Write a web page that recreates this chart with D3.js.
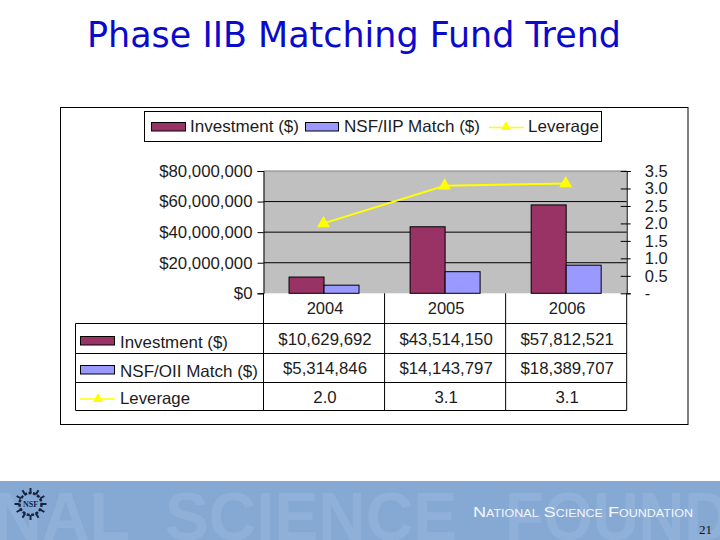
<!DOCTYPE html>
<html>
<head>
<meta charset="utf-8">
<script src="https://cdn.jsdelivr.net/npm/d3@7/dist/d3.min.js"></script>
<style>
html,body{margin:0;padding:0;background:#fff}
svg{display:block}
text{font-family:"Liberation Sans",Arial,sans-serif;fill:#1c1c1c}
</style>
</head>
<body>
<script>
const categories = ["2004", "2005", "2006"];
const investment = [10629692, 43514150, 57812521];
const nsfMatch = [5314846, 14143797, 18389707];
const leverage = [2.0, 3.08, 3.14];
const investmentLabels = ["$10,629,692", "$43,514,150", "$57,812,521"];
const matchLabels = ["$5,314,846", "$14,143,797", "$18,389,707"];
const leverageLabels = ["2.0", "3.1", "3.1"];
const moneyTicks = [0, 20000000, 40000000, 60000000, 80000000];
const ratioTicks = [0, 0.5, 1, 1.5, 2, 2.5, 3, 3.5];
const legendNames = ["Investment ($)", "NSF/IIP Match ($)", "Leverage"];
const tableNames = ["Investment ($)", "NSF/OII Match ($)", "Leverage"];
const titleText = "Phase IIB Matching Fund Trend";

const svg = d3.select("body").append("svg").attr("width", 720).attr("height", 540);
const maroon = "#993366", periwinkle = "#9999ff", yellow = "#ffff00";

function label(sel, x, y, str, size, anchor, len) {
  const t = sel.append("text").attr("x", x).attr("y", y).attr("font-size", size)
    .attr("text-anchor", anchor || "start").text(str);
  if (len) t.attr("textLength", len).attr("lengthAdjust", "spacingAndGlyphs");
  return t;
}
function triangle(sel, cx, cy, r) {
  sel.append("path").attr("transform", `translate(${cx},${cy})`)
    .attr("d", d3.symbol(d3.symbolTriangle, r * r * 1.3)()).attr("fill", yellow);
}

// title
label(svg, 87, 47, titleText, 35, "start", 534)
  .style("font-family", "'DejaVu Sans'").style("fill", "#0a0acc");

// frame
svg.append("rect").attr("x", 60.5).attr("y", 107.5).attr("width", 627.5).attr("height", 317)
  .attr("fill", "#fff").attr("stroke", "#000");

// legend
const lg = svg.append("g");
lg.append("rect").attr("x", 144.5).attr("y", 111.5).attr("width", 457).attr("height", 30)
  .attr("fill", "#fff").attr("stroke", "#000");
lg.append("rect").attr("x", 151.5).attr("y", 122.5).attr("width", 34).attr("height", 8.5)
  .attr("fill", maroon).attr("stroke", "#000");
label(lg, 190, 131.5, legendNames[0], 16.5, "start", 109);
lg.append("rect").attr("x", 305.5).attr("y", 122.5).attr("width", 33).attr("height", 8.5)
  .attr("fill", periwinkle).attr("stroke", "#000");
label(lg, 344, 131.5, legendNames[1], 16.5, "start", 136);
lg.append("line").attr("x1", 489).attr("x2", 524).attr("y1", 127.5).attr("y2", 127.5)
  .attr("stroke", yellow).attr("stroke-width", 1.5);
triangle(lg, 506, 127, 6);
label(lg, 528, 131.5, legendNames[2], 16.5, "start", 71);

// scales
const x = d3.scaleBand().domain(categories).range([263.5, 626.7]);
const y = d3.scaleLinear().domain([0, 80000000]).range([293.3, 171]);
const yR = d3.scaleLinear().domain([0, 3.5]).range([293.3, 171]);
const inner = d3.scaleBand().domain(["investment", "match"]).range([0, x.bandwidth()]).paddingOuter(0.73).paddingInner(0);

// plot area
svg.append("rect").attr("x", 263.5).attr("y", 171).attr("width", 363.2).attr("height", 122.3)
  .attr("fill", "#c0c0c0");
svg.append("line").attr("x1", 263.5).attr("x2", 626.7).attr("y1", 171).attr("y2", 171).attr("stroke", "#808080");
svg.append("g").selectAll("line").data(moneyTicks.slice(1, -1)).join("line")
  .attr("x1", 263.5).attr("x2", 626.7).attr("y1", d => y(d)).attr("y2", d => y(d)).attr("stroke", "#000");

// bars
[["investment", investment, maroon], ["match", nsfMatch, periwinkle]].forEach(([key, vals, col]) => {
  svg.append("g").selectAll("rect").data(vals).join("rect")
    .attr("x", (d, i) => x(categories[i]) + inner(key))
    .attr("width", inner.bandwidth())
    .attr("y", d => y(d))
    .attr("height", d => y(0) - y(d))
    .attr("fill", col).attr("stroke", "#000");
});

// leverage line
const lineGen = d3.line().x((d, i) => x(categories[i]) + x.bandwidth() / 2 - 0.5).y(d => yR(d));
svg.append("path").datum(leverage).attr("d", lineGen).attr("fill", "none")
  .attr("stroke", yellow).attr("stroke-width", 2);
leverage.forEach((d, i) => triangle(svg, x(categories[i]) + x.bandwidth() / 2 - 0.5, yR(d), 7.5));

// axes
const axL = svg.append("g").attr("transform", "translate(263.5,0)")
  .call(d3.axisLeft(y).tickValues(moneyTicks).tickSize(6).tickPadding(5)
    .tickFormat(d => "$" + d3.format(",")(d)));
axL.select(".domain").attr("stroke", "#000");
axL.selectAll("text").attr("font-size", 16.8).attr("font-family", "Liberation Sans").style("fill", "#1c1c1c");
const axR = svg.append("g").attr("transform", "translate(626.7,0)")
  .call(d3.axisRight(yR).tickValues(ratioTicks).tickSize(4).tickPadding(14)
    .tickFormat(d => d === 0 ? "-" : d3.format(".1f")(d)));
axR.select(".domain").attr("stroke", "#000");
axR.selectAll("line").attr("x1", -6);
axR.selectAll("text").attr("font-size", 16.5).attr("font-family", "Liberation Sans").style("fill", "#1c1c1c");

// data table
const tbl = svg.append("g");
const rowY = [293.3, 323.5, 353.5, 382.5, 410.5];
const tableLeft = 75.5;
[1, 2, 3, 4].forEach(i => tbl.append("line").attr("x1", tableLeft).attr("x2", 626.7)
  .attr("y1", rowY[i]).attr("y2", rowY[i]).attr("stroke", "#000"));
tbl.append("line").attr("x1", tableLeft).attr("x2", tableLeft).attr("y1", rowY[1]).attr("y2", rowY[4]).attr("stroke", "#000");
[...x.domain().map(c => x(c)), 626.7].forEach(v => tbl.append("line").attr("x1", v).attr("x2", v)
  .attr("y1", rowY[0]).attr("y2", rowY[4]).attr("stroke", "#000"));

categories.forEach((c, i) => {
  const cx = x(c) + x.bandwidth() / 2 + 1;
  label(tbl, cx, 314, c, 16.5, "middle");
  label(tbl, cx, 345, investmentLabels[i], 16.8, "middle");
  label(tbl, cx, 373.5, matchLabels[i], 16.8, "middle");
  label(tbl, cx, 402.5, leverageLabels[i], 16.8, "middle");
});
tbl.append("rect").attr("x", 80.5).attr("y", 336.5).attr("width", 34).attr("height", 8.5).attr("fill", maroon).attr("stroke", "#000");
tbl.append("rect").attr("x", 80.5).attr("y", 365.5).attr("width", 34).attr("height", 8.5).attr("fill", periwinkle).attr("stroke", "#000");
tbl.append("line").attr("x1", 80).attr("x2", 115).attr("y1", 399).attr("y2", 399).attr("stroke", yellow).attr("stroke-width", 1.5);
triangle(tbl, 98, 399, 6);
label(tbl, 120, 347.5, tableNames[0], 16.5, "start", 108);
label(tbl, 120, 376.5, tableNames[1], 16.5, "start", 138);
label(tbl, 120, 404, tableNames[2], 16.5, "start", 70);

// footer band
const foot = svg.append("g");
foot.append("rect").attr("x", 0).attr("y", 481).attr("width", 720).attr("height", 59).attr("fill", "#86a9d4");
const ghost = "#8fb0d9";
[["NAL", -6, 136], ["SCIENCE", 165, 292], ["FOUND", 505, 225]].forEach(([w, gx, gl]) => {
  label(foot, gx, 540, w, 68, "start", gl).style("font-variant", "small-caps").style("font-weight", "bold").style("fill", ghost);
});
label(foot, 473, 517, "National Science Foundation", 14.5, "start", 220)
  .style("font-variant", "small-caps").style("fill", "#f2f6fb");
label(foot, 699, 534, "21", 13, "start").style("font-family", "'Liberation Serif'").style("fill", "#111");

// emblem
const logo = foot.append("g").attr("transform", "translate(30.5,504)");
d3.range(12).forEach(i => {
  const a = i * Math.PI / 6;
  logo.append("line").attr("x1", 8 * Math.cos(a)).attr("y1", 8 * Math.sin(a))
    .attr("x2", 16 * Math.cos(a)).attr("y2", 16 * Math.sin(a))
    .attr("stroke", "#16243f").attr("stroke-width", 2);
});
logo.append("circle").attr("r", 11).attr("fill", "#86a9d4").attr("stroke", "#16243f").attr("stroke-width", 2.5).attr("stroke-dasharray", "3 1.5");
label(logo, 0, 3, "NSF", 8, "middle").style("font-family", "'Liberation Serif'").style("font-weight", "bold").style("fill", "#16243f");
</script>
</body>
</html>
